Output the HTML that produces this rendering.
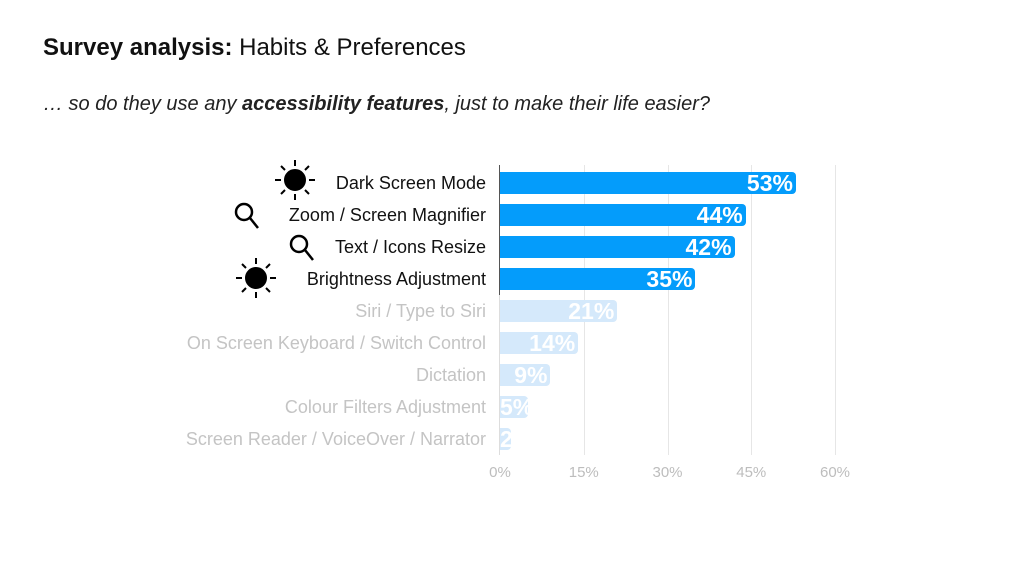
<!DOCTYPE html>
<html><head><meta charset="utf-8"><style>
body{margin:0;width:1024px;height:576px;background:#fff;font-family:"Liberation Sans",sans-serif;position:relative;overflow:hidden}
.abs{position:absolute}
.lbl{position:absolute;right:538px;font-size:18px;white-space:nowrap;line-height:22px}
.bar{position:absolute;height:22px;border-radius:0 4px 4px 0;overflow:hidden}
.val{position:absolute;top:-2px;font-size:23px;color:#fff;font-weight:bold;line-height:26px;white-space:nowrap}
.grid{position:absolute;top:165px;height:290px;width:1px;background:#e6e6e6}
.tick{position:absolute;top:464px;font-size:15px;color:#bdbdbd;transform:translateX(-50%)}
</style></head><body>
<div class="abs" style="left:43px;top:34px;font-size:24px;color:#111"><b>Survey analysis:</b> Habits &amp; Preferences</div>
<div class="abs" style="left:43px;top:93px;font-size:20px;font-style:italic;color:#222">… so do they use any <b>accessibility features</b>, just to make their life easier?</div>
<div id="chart"></div>
<svg class="abs" style="left:0;top:0" width="1024" height="576">
<g transform="translate(295,180)" stroke="#000" stroke-width="2"><circle r="10" fill="#000"/><path d="M0-14V-20M0 14V20M-14 0H-20M14 0H20M-10-10L-14-14M10 10L14 14M-10 10L-14 14M10-10L14-14"/></g>
<g transform="translate(244,212)" stroke="#000" stroke-width="2.5" fill="none"><circle r="8"/><path d="M6 6L14 16"/></g>
<g transform="translate(299,244)" stroke="#000" stroke-width="2.5" fill="none"><circle r="8"/><path d="M6 6L14 16"/></g>
<g transform="translate(256,278)" stroke="#000" stroke-width="2"><circle r="10" fill="#000"/><path d="M0-14V-20M0 14V20M-14 0H-20M14 0H20M-10-10L-14-14M10 10L14 14M-10 10L-14 14M10-10L14-14"/></g>
</svg>
<script>
const categories=["Dark Screen Mode","Zoom / Screen Magnifier","Text / Icons Resize","Brightness Adjustment","Siri / Type to Siri","On Screen Keyboard / Switch Control","Dictation","Colour Filters Adjustment","Screen Reader / VoiceOver / Narrator"];
const values=[53,44,42,35,21,14,9,5,2];
const highlighted=[true,true,true,true,false,false,false,false,false];
const ticks=[0,15,30,45,60];
const x0=500,pxPer=335/60,top0=172,step=32;
const x=v=>x0+v*pxPer;
const c=document.getElementById('chart');
ticks.forEach(t=>{
 if(t>0){const g=document.createElement('div');g.className='grid';g.style.left=x(t)+'px';
 
 c.appendChild(g);}
 const l=document.createElement('div');l.className='tick';l.style.left=x(t)+'px';l.textContent=t+'%';
 
 c.appendChild(l);
});
const ax=document.createElement('div');ax.className='abs';ax.style.cssText='left:499px;top:165px;width:1px;height:290px;background:linear-gradient(#555 0,#555 130px,#ddd 130px)';

c.appendChild(ax);
categories.forEach((cat,i)=>{
 const y=top0+i*step;
 const l=document.createElement('div');l.className='lbl';l.style.top=y+'px';l.textContent=cat;l.style.color=highlighted[i]?'#111':'#c4c4c4';
 
 c.appendChild(l);
 const w=x(values[i])-x0;
 const b=document.createElement('div');b.className='bar';b.style.left=x0+'px';b.style.top=y+'px';b.style.width=w+'px';b.style.background=highlighted[i]?'#049cfb':'#d5e9fb';
 
 
 const v=document.createElement('span');v.className='val';v.textContent=values[i]+'%';
 
 
 b.appendChild(v);c.appendChild(b);
 v.style.left=Math.max(0,w-3-v.offsetWidth)+'px';
});
</script>
</body></html>
